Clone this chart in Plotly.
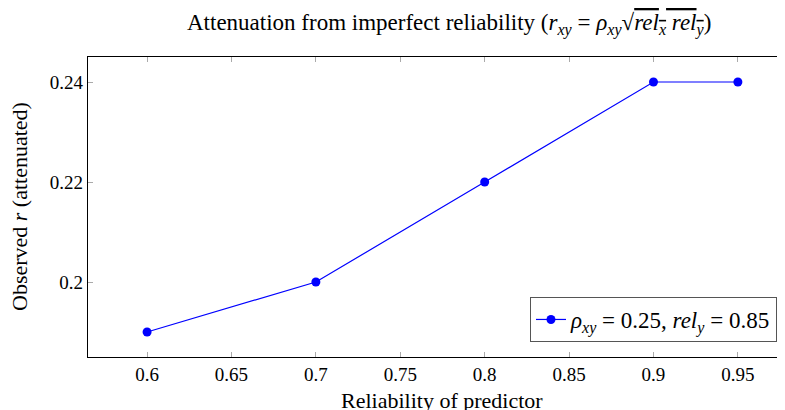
import plotly.graph_objects as go

reliability = [0.6, 0.7, 0.8, 0.9, 0.95]
observed_r = [0.19, 0.20, 0.22, 0.24, 0.24]
x_ticks = [0.6, 0.65, 0.7, 0.75, 0.8, 0.85, 0.9, 0.95]
y_ticks = [0.2, 0.22, 0.24]
series_name = "<i>ρ<sub>xy</sub></i> = 0.25, <i>rel<sub>y</sub></i> = 0.85"

FONT = "Liberation Serif"
# page has an 8px body margin: figure is drawn at offset (8, 8)
L, T, B = 80, 49, 349
W, H = 777, 402
PW, PH = W - L, B - T
tickfont = dict(family=FONT, size=19, color="black")

fig = go.Figure()
fig.add_trace(go.Scatter(
    x=reliability, y=observed_r, mode="lines+markers", name=series_name,
    line=dict(color="#0000ff", width=1.2),
    marker=dict(color="#0000ff", size=9),
    showlegend=True,
))

fig.update_layout(
    width=W, height=H,
    margin=dict(l=L, r=0, t=T, b=H - B),
    paper_bgcolor="white", plot_bgcolor="white",
    font=dict(family=FONT, size=19, color="black"),
    showlegend=True,
    legend=dict(x=0.9885, y=0.05, xanchor="right", yanchor="bottom",
                bordercolor="#555", borderwidth=1, bgcolor="white",
                itemwidth=30, font=dict(family=FONT, size=23)),
    xaxis=dict(range=[0.565, 0.565 + PW / 1688.0], tickvals=x_ticks,
               ticktext=[("%g" % v) for v in x_ticks], tickfont=tickfont,
               showgrid=False, zeroline=False, showline=True, linecolor="black",
               linewidth=1.3, mirror="ticks", ticks="inside", ticklen=5,
               tickcolor="#aaa", tickwidth=1),
    yaxis=dict(range=[0.185, 0.245], tickvals=y_ticks,
               ticktext=[("%g" % v) for v in y_ticks], tickfont=tickfont,
               showgrid=False, zeroline=False, showline=True, linecolor="black",
               linewidth=1.3, mirror=False, ticks="inside", ticklen=5,
               tickcolor="#aaa", tickwidth=1),
    annotations=[
        dict(text="Attenuation from imperfect reliability (<i>r<sub>xy</sub></i> = <i>ρ<sub>xy</sub></i>√<span style='text-decoration:overline'><i>rel<sub>x</sub> rel<sub>y</sub></i></span>)",
             xref="paper", yref="paper", x=(441 - L) / PW, y=1 + (T - 17) / PH,
             xanchor="center", yanchor="middle", showarrow=False,
             font=dict(family=FONT, size=23)),
        dict(text="Reliability of predictor", xref="paper", yref="paper",
             x=(434 - L) / PW, y=-(392 - B) / PH, xanchor="center", yanchor="middle",
             showarrow=False, font=dict(family=FONT, size=22)),
        dict(text="Observed <i>r</i> (attenuated)", xref="paper", yref="paper",
             x=-(L - 11) / PW, y=(B - 199) / PH, xanchor="center", yanchor="middle",
             textangle=-90, showarrow=False, font=dict(family=FONT, size=22)),
    ],
)
fig.write_html("out.html")
